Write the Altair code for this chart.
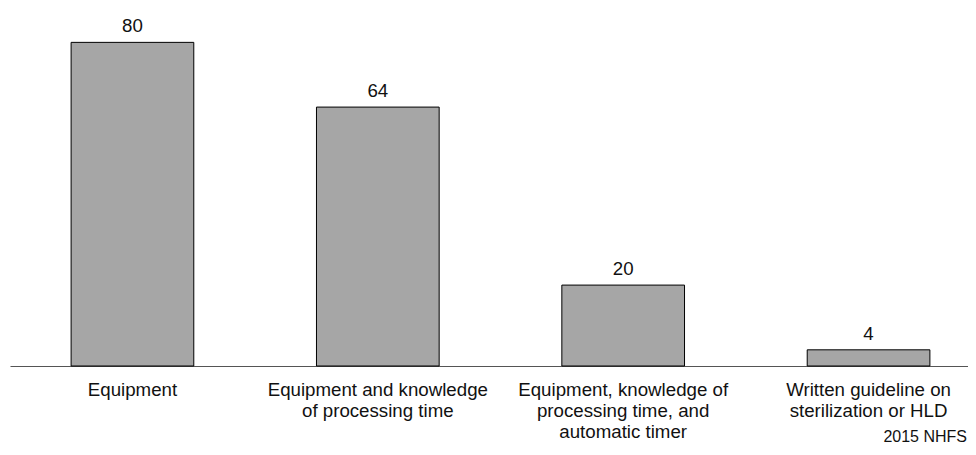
import altair as alt
import pandas as pd

categories = [
    "Equipment",
    "Equipment and knowledge\nof processing time",
    "Equipment, knowledge of\nprocessing time, and\nautomatic timer",
    "Written guideline on\nsterilization or HLD",
]
values = [80, 64, 20, 4]
source_note = ["2015 NHFS"]

df = pd.DataFrame({"category": categories, "value": values})
note_df = pd.DataFrame({"note": source_note})

FONT = "Liberation Sans"

x = alt.X(
    "category:N",
    sort=categories,
    title=None,
    scale=alt.Scale(range=[0, 981], paddingInner=0.5, paddingOuter=0.249),
    axis=alt.Axis(
        labelAngle=0,
        labelExpr="split(datum.label, '\\n')",
        labelFontSize=18.7,
        labelFont=FONT,
        labelColor="#111111",
        labelLineHeight=21,
        labelPadding=14,
        ticks=False,
        domainColor="#555555",
        domainWidth=1.2,
        grid=False,
        labelLimit=400,
    ),
)
y = alt.Y(
    "value:Q",
    title=None,
    scale=alt.Scale(domain=[0, 88], nice=False),
    axis=None,
)

bars = alt.Chart(df).mark_bar(
    fill="#a6a6a6", stroke="#000000", strokeWidth=1
).encode(x=x, y=y)

labels = alt.Chart(df).mark_text(
    baseline="alphabetic", dy=-10, fontSize=18.7, font=FONT, color="#111111"
).encode(x=x, y=y, text="value:Q")

note = alt.Chart(note_df).mark_text(
    align="right", baseline="alphabetic", fontSize=16, font=FONT, color="#111111"
).encode(x=alt.value(957), y=alt.value(432), text="note:N")

chart = (
    alt.layer(bars, labels, note)
    .properties(
        width=958,
        height=356,
        autosize=alt.AutoSizeParams(type="none"),
        padding={"left": 2, "top": 2, "right": 0, "bottom": 81},
    )
    .configure(background="white", view=alt.ViewConfig(stroke="transparent", strokeWidth=0))
)

chart.save("out.html", embed_options={"renderer": "svg", "actions": False})
